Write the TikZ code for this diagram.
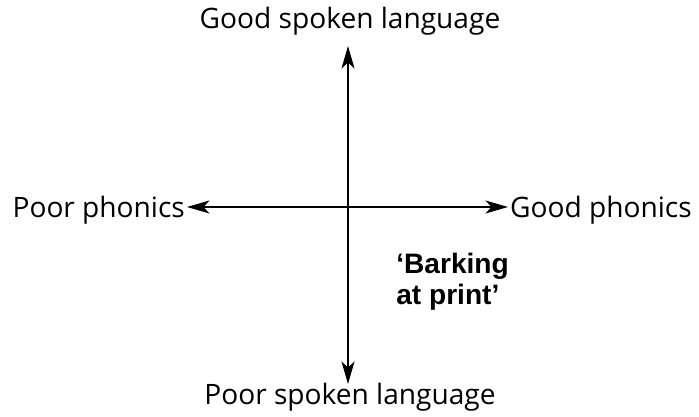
\documentclass[tikz,border=0pt]{standalone}
\usepackage{fontspec}
\setmainfont{Open Sans}
\newfontfamily\boldlabel{Liberation Sans}
\usetikzlibrary{arrows.meta}

\tikzset{
  axislabel/.style={font=\fontsize{16}{19}\selectfont, inner sep=1pt},
  quadlabel/.style={font=\boldlabel\bfseries\fontsize{16}{17.5}\selectfont, align=left, anchor=north west, inner sep=0pt},
  axis/.style={line width=0.7pt, <->},
}

\begin{document}
\begin{tikzpicture}[x=0.02cm, y=-0.02cm, >={Stealth[length=0.45cm, width=0.26cm, inset=0.12cm]}]
    \useasboundingbox (0,0) rectangle (699,416);
    % axis labels
    \node[axislabel] (goodspoken) at (350,21) {Good spoken language};
    \node[axislabel] (poorspoken) at (350,397) {Poor spoken language};
    \node[axislabel, anchor=east] (poorphon) at (187,210) {Poor phonics};
    \node[axislabel, anchor=west] (goodphon) at (508,210) {Good phonics};
    % arrow ends
    \coordinate (ytop) at (348,46);
    \coordinate (ybot) at (348,384);
    \draw[axis] (ybot) -- (ytop);
    \draw[axis] (poorphon.east |- 0,207) -- (goodphon.west |- 0,207);
    % quadrant
    \node[quadlabel] (barking) at (396,253) {‘Barking\\at print’};
\end{tikzpicture}
\end{document}
